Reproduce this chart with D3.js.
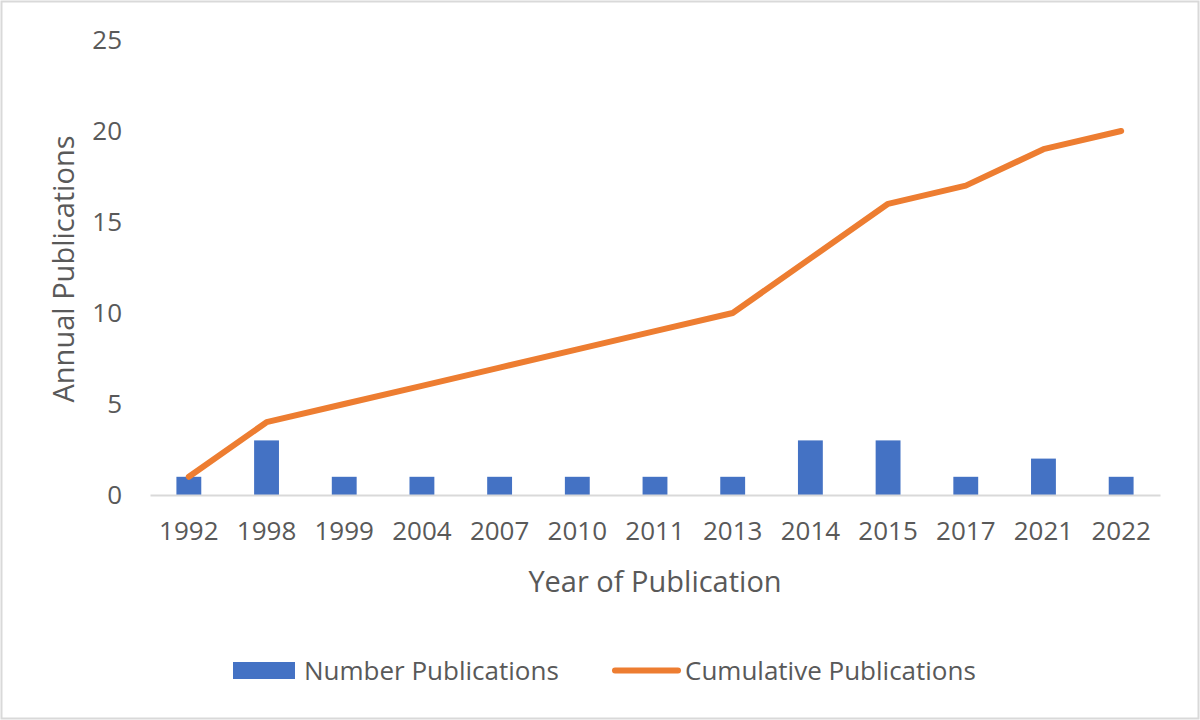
<!DOCTYPE html>
<html lang="en">
<head>
  <meta charset="UTF-8">
  <title>Publications by Year</title>
  <script src="https://d3js.org/d3.v7.min.js"></script>
  <style>
    body { margin: 0; background: white; font-family: "Open Sans", "Noto Sans", sans-serif; }
    .tick text { fill: #595959; }
  </style>
</head>
<body>
<svg id="chart"></svg>
<script>
// data
const years = ["1992","1998","1999","2004","2007","2010","2011","2013","2014","2015","2017","2021","2022"];
const annual = [1, 3, 1, 1, 1, 1, 1, 1, 3, 3, 1, 2, 1];
const cumulative = [1, 4, 5, 6, 7, 8, 9, 10, 13, 16, 17, 19, 20];
const yTicks = [0, 5, 10, 15, 20, 25];

const width = 1200, height = 720;
const blue = "#4472C4", orange = "#ED7D31", textCol = "#595959";

const svg = d3.select("#chart").attr("width", width).attr("height", height);

// frame
svg.append("rect")
  .attr("x", 1.5).attr("y", 1.5)
  .attr("width", width - 3).attr("height", height - 3)
  .attr("fill", "white").attr("stroke", "#d9d9d9").attr("stroke-width", 2);

const x = d3.scaleBand().domain(years).range([150, 1160]).padding(0);
const y = d3.scaleLinear().domain([0, 25]).range([495, 40]);

const barW = x.bandwidth() * 0.32;

// bars
svg.selectAll(".bar")
  .data(years)
  .join("rect")
  .attr("class", "bar")
  .attr("x", (d) => x(d) + x.bandwidth() / 2 - barW / 2)
  .attr("y", (d, i) => y(annual[i]))
  .attr("width", barW)
  .attr("height", (d, i) => y(0) - y(annual[i]))
  .attr("fill", blue);

// x axis
const xAxis = svg.append("g")
  .attr("transform", `translate(0,${y(0)})`)
  .call(d3.axisBottom(x).tickSize(0).tickPadding(27));
xAxis.select(".domain").attr("stroke", "#d9d9d9").attr("stroke-width", 2);
xAxis.selectAll("text").attr("font-size", 26).attr("font-family", "Open Sans");

// y axis (labels only)
const yAxis = svg.append("g")
  .attr("transform", "translate(150,0)")
  .call(d3.axisLeft(y).tickValues(yTicks).tickSize(0).tickPadding(28));
yAxis.select(".domain").remove();
yAxis.selectAll("text").attr("font-size", 26).attr("font-family", "Open Sans");

// cumulative line
const line = d3.line()
  .x((d, i) => x(years[i]) + x.bandwidth() / 2)
  .y((d) => y(d));

svg.append("path")
  .datum(cumulative)
  .attr("d", line)
  .attr("fill", "none")
  .attr("stroke", orange)
  .attr("stroke-width", 6)
  .attr("stroke-linejoin", "round")
  .attr("stroke-linecap", "round");

// axis titles
svg.append("text")
  .attr("x", 655).attr("y", 592)
  .attr("text-anchor", "middle")
  .attr("font-size", 29).attr("fill", textCol)
  .text("Year of Publication");

svg.append("text")
  .attr("transform", "translate(74,269) rotate(-90)")
  .attr("text-anchor", "middle")
  .attr("font-size", 29).attr("fill", textCol)
  .text("Annual Publications");

// legend
const legend = svg.append("g");
legend.append("rect")
  .attr("x", 233).attr("y", 662).attr("width", 62).attr("height", 17)
  .attr("fill", blue);
legend.append("text")
  .attr("x", 304).attr("y", 680)
  .attr("font-size", 26).attr("fill", textCol)
  .text("Number Publications");
legend.append("line")
  .attr("x1", 615).attr("x2", 678).attr("y1", 670.5).attr("y2", 670.5)
  .attr("stroke", orange).attr("stroke-width", 6).attr("stroke-linecap", "round");
legend.append("text")
  .attr("x", 685).attr("y", 680)
  .attr("font-size", 26).attr("fill", textCol)
  .text("Cumulative Publications");
</script>
</body>
</html>
